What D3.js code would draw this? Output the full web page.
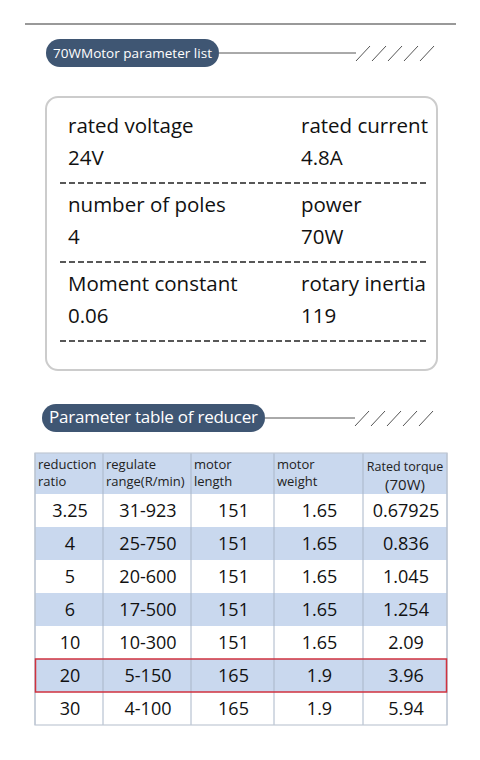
<!DOCTYPE html>
<html><head><meta charset="utf-8">
<script src="https://cdn.jsdelivr.net/npm/d3@7"></script>
<style>body{margin:0;background:#fff}svg{display:block;font-family:"Open Sans",sans-serif}</style>
</head><body><svg id="c" width="480" height="760"></svg>
<script>
// motor parameters (label, value) laid out in 2 columns
var paramLabels = ["rated voltage","rated current","number of poles","power","Moment constant","rotary inertia"];
var paramValues = ["24V","4.8A","4","70W","0.06","119"];

// reducer table
var headers = [["reduction","ratio"],["regulate","range(R/min)"],["motor","length"],["motor","weight"],["Rated torque","(70W)"]];
var ratios = ["3.25","4","5","6","10","20","30"];
var ranges = ["31-923","25-750","20-600","17-500","10-300","5-150","4-100"];
var lengths = ["151","151","151","151","151","165","165"];
var weights = ["1.65","1.65","1.65","1.65","1.65","1.9","1.9"];
var torques = ["0.67925","0.836","1.045","1.254","2.09","3.96","5.94"];
var highlight = "20";

var svg = d3.select('#c');
var navy = '#3f5673', blue = '#c9d8ee';

svg.append('line').attr('x1',25).attr('x2',456).attr('y1',24).attr('y2',24)
  .attr('stroke','#777').attr('stroke-width',1.5);

function pill(x, y, w, label, fs, lineEnd) {
  svg.append('line').attr('x1',x+w).attr('x2',lineEnd).attr('y1',y+14).attr('y2',y+14)
    .attr('stroke','#555').attr('stroke-width',1);
  d3.range(5).forEach(function(i) {
    var sx = lineEnd + i*16;
    svg.append('line').attr('x1',sx).attr('y1',y+22).attr('x2',sx+14).attr('y2',y+7)
      .attr('stroke','#555').attr('stroke-width',1);
  });
  svg.append('rect').attr('x',x).attr('y',y).attr('width',w).attr('height',28)
    .attr('rx',14).attr('fill',navy);
  svg.append('text').attr('x',x+7).attr('y',y+19).attr('fill','#fff')
    .attr('font-size',fs).attr('font-weight',500).attr('textLength',w-14).text(label);
}
pill(46, 39, 173, "70WMotor parameter list", 13.5, 356);
pill(42, 404, 223, "Parameter table of reducer", 17, 355);

// card
svg.append('rect').attr('x',46).attr('y',97).attr('width',391).attr('height',273)
  .attr('rx',12).attr('fill','#fff').attr('stroke','#ccc').attr('stroke-width',2);

var rowY = [133, 212, 291];
paramLabels.forEach(function(l, i) {
  var r = Math.floor(i/2), c = i%2;
  var x = c ? 301 : 68;
  svg.append('text').attr('x',x).attr('y',rowY[r]).attr('font-size',20.5).attr('fill','#111').text(l);
  svg.append('text').attr('x',x).attr('y',rowY[r]+32).attr('font-size',20.5).attr('fill','#111').text(paramValues[i]);
});
rowY.forEach(function(y) {
  svg.append('line').attr('x1',60).attr('x2',428).attr('y1',y+50).attr('y2',y+50)
    .attr('stroke','#222').attr('stroke-width',1.3).attr('stroke-dasharray','6,3');
});

// table
var colEdges = [35, 103, 191, 274, 363, 447];
var y = d3.scaleBand().domain(ratios).range([494, 725]);
var cols = [ratios, ranges, lengths, weights, torques];

svg.append('rect').attr('x',35).attr('y',453).attr('width',412).attr('height',41).attr('fill',blue);
var rows = svg.selectAll('g.row').data(ratios).join('g').attr('class','row')
  .attr('transform', function(d){ return 'translate(0,' + y(d) + ')'; });
rows.append('rect').attr('x',35).attr('width',412).attr('height',y.bandwidth())
  .attr('fill', function(d, i){ return i % 2 ? blue : '#fff'; });
rows.each(function(d, i) {
  var g = d3.select(this);
  cols.forEach(function(col, c) {
    g.append('text').attr('x',(colEdges[c]+colEdges[c+1])/2 + 1).attr('y',y.bandwidth()/2+6.5)
      .attr('text-anchor','middle').attr('font-size',18).attr('fill','#111').text(col[i]);
  });
});
// grid
colEdges.forEach(function(x) {
  svg.append('line').attr('x1',x).attr('x2',x).attr('y1',453).attr('y2',725)
    .attr('stroke','#a9b6c8').attr('stroke-width',1);
});
svg.append('rect').attr('x',35).attr('y',453).attr('width',412).attr('height',272)
  .attr('fill','none').attr('stroke','#c0c8d4').attr('stroke-width',1.2);
// header
headers.forEach(function(h, c) {
  var last = c === 4;
  var x = last ? (colEdges[c]+colEdges[c+1])/2 : colEdges[c]+3;
  h.forEach(function(t, k) {
    svg.append('text').attr('x', x).attr('y', last ? 471 + k*19 : 469 + k*17)
      .attr('text-anchor', last ? 'middle' : 'start')
      .attr('font-size', last ? (k ? 15 : 12.5) : 13).attr('fill','#222').text(t);
  });
});
// highlight row
svg.append('rect').attr('x',35.5).attr('y',y(highlight)).attr('width',411).attr('height',y.bandwidth())
  .attr('fill','none').attr('stroke','#d0323f').attr('stroke-width',1.5);
</script></body></html>
